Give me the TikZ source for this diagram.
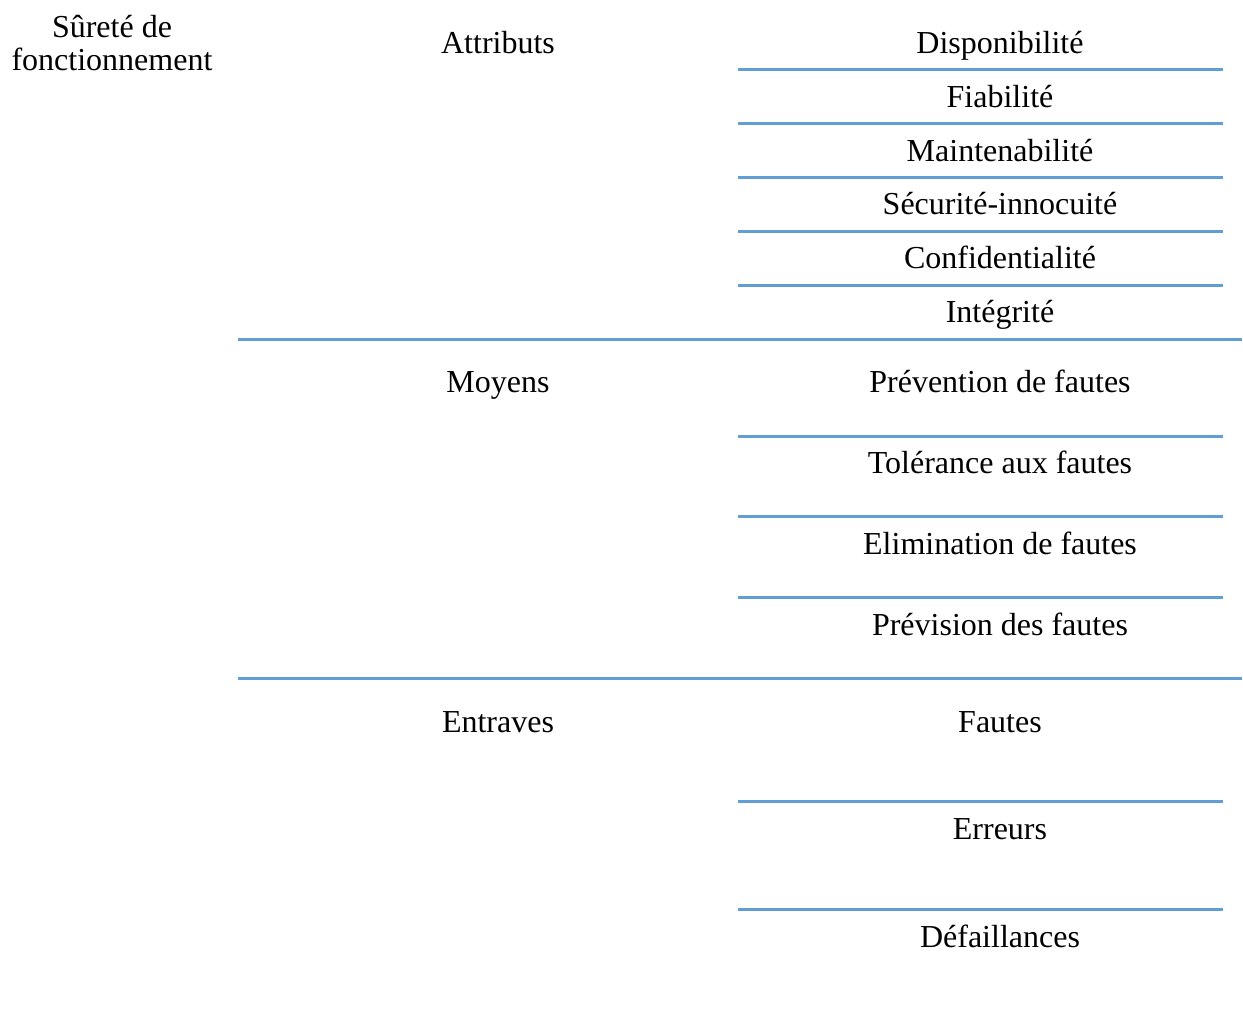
\documentclass[tikz,border=0pt]{standalone}
\usepackage{fontspec}
\setmainfont{Liberation Serif}
\definecolor{rule}{RGB}{98,158,214}
\begin{document}
\begin{tikzpicture}[x=1pt,y=-1pt,
  lbl/.style={anchor=base,inner sep=0pt,font=\fontsize{32}{33}\selectfont},
  sep/.style={draw=rule,line width=3pt}]
\useasboundingbox (0,0) rectangle (1243,1012);
% root (base anchor sits on the last line)
\node[lbl,align=center] (root) at (112,70) {Sûreté de\\fonctionnement};
% categories
\node[lbl] (attr) at (498,53) {Attributs};
\node[lbl] (moy) at (498,392) {Moyens};
\node[lbl] (ent) at (498,732) {Entraves};
% attributes
\node[lbl] (a1) at (1000,53) {Disponibilité};
\node[lbl] (a2) at (1000,107) {Fiabilité};
\node[lbl] (a3) at (1000,161) {Maintenabilité};
\node[lbl] (a4) at (1000,214) {Sécurité-innocuité};
\node[lbl] (a5) at (1000,268) {Confidentialité};
\node[lbl] (a6) at (1000,322) {Intégrité};
% means
\node[lbl] (m1) at (1000,392) {Prévention de fautes};
\node[lbl] (m2) at (1000,473) {Tolérance aux fautes};
\node[lbl] (m3) at (1000,554) {Elimination de fautes};
\node[lbl] (m4) at (1000,635) {Prévision des fautes};
% threats
\node[lbl] (e1) at (1000,732) {Fautes};
\node[lbl] (e2) at (1000,839) {Erreurs};
\node[lbl] (e3) at (1000,947) {Défaillances};
% separators inside each group
\foreach \yy in {69,123,177,231,285,436,516,597,801,909}
  \draw[sep] (738,\yy) -- (1223,\yy);
% separators between groups
\foreach \yy in {339,678}
  \draw[sep] (238,\yy) -- (1242,\yy);
\end{tikzpicture}
\end{document}
